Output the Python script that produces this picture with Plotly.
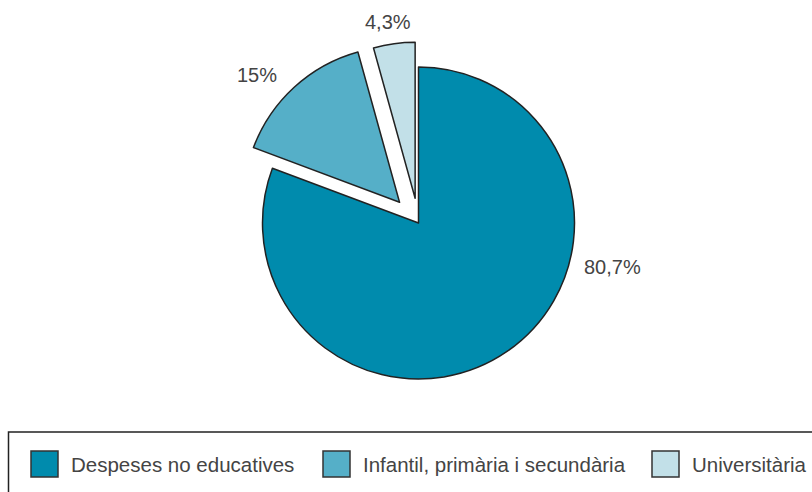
import plotly.graph_objects as go

# ---- data ----
categories = ["Despeses no educatives", "Infantil, primària i secundària", "Universitària"]
values = [80.7, 15, 4.3]
value_labels = ["80,7%", "15%", "4,3%"]
colors = ["#008BAD", "#55AFC8", "#C2E0E8"]
pulls = [0, 0.18, 0.16]

W, H = 812, 492
FONT = "Liberation Sans, Arial, sans-serif"
TXT = "#444444"

fig = go.Figure()
fig.add_trace(go.Pie(
    labels=categories,
    values=values,
    sort=False,
    direction="clockwise",
    rotation=0,
    pull=pulls,
    marker=dict(colors=colors, line=dict(color="#222222", width=1.5)),
    textinfo="none",
    hoverinfo="label+percent",
    showlegend=False,
    domain=dict(x=[0.2887, 0.7421], y=[0.1726, 0.9209]),
))

# value labels (positions in pixels, converted to paper coords)
label_pos = [(612, 267), (257, 75), (388, 22)]
annotations = []
for txt, (px, py) in zip(value_labels, label_pos):
    annotations.append(dict(
        x=px / W, y=1 - py / H, xref="paper", yref="paper",
        text=txt, showarrow=False, xanchor="center", yanchor="middle",
        font=dict(family=FONT, size=20, color=TXT),
    ))

# custom legend
shapes = [dict(
    type="rect", xref="paper", yref="paper",
    x0=8.5 / W, x1=1.05, y0=-0.05, y1=1 - 432 / H,
    line=dict(color="#222222", width=1.5), fillcolor="rgba(0,0,0,0)",
)]
swatch_x = [31, 323, 652]
sw, sh = 27, 26
sy_c = 464
for cat, col, sx in zip(categories, colors, swatch_x):
    shapes.append(dict(
        type="rect", xref="paper", yref="paper",
        x0=sx / W, x1=(sx + sw) / W,
        y0=1 - (sy_c + sh / 2) / H, y1=1 - (sy_c - sh / 2) / H,
        line=dict(color="#333333", width=1.5), fillcolor=col,
    ))
    annotations.append(dict(
        x=(sx + sw + 11) / W, y=1 - sy_c / H, xref="paper", yref="paper",
        text=cat, showarrow=False, xanchor="left", yanchor="middle",
        font=dict(family=FONT, size=20.5, color=TXT),
    ))

fig.update_layout(
    width=W, height=H,
    margin=dict(l=0, r=0, t=0, b=0),
    paper_bgcolor="white", plot_bgcolor="white",
    shapes=shapes, annotations=annotations,
    font=dict(family=FONT, color=TXT),
)

fig.write_html(
    "out.html",
    config={"displayModeBar": False},
    post_script="document.body.style.margin='0';document.body.style.overflow='hidden';",
)
